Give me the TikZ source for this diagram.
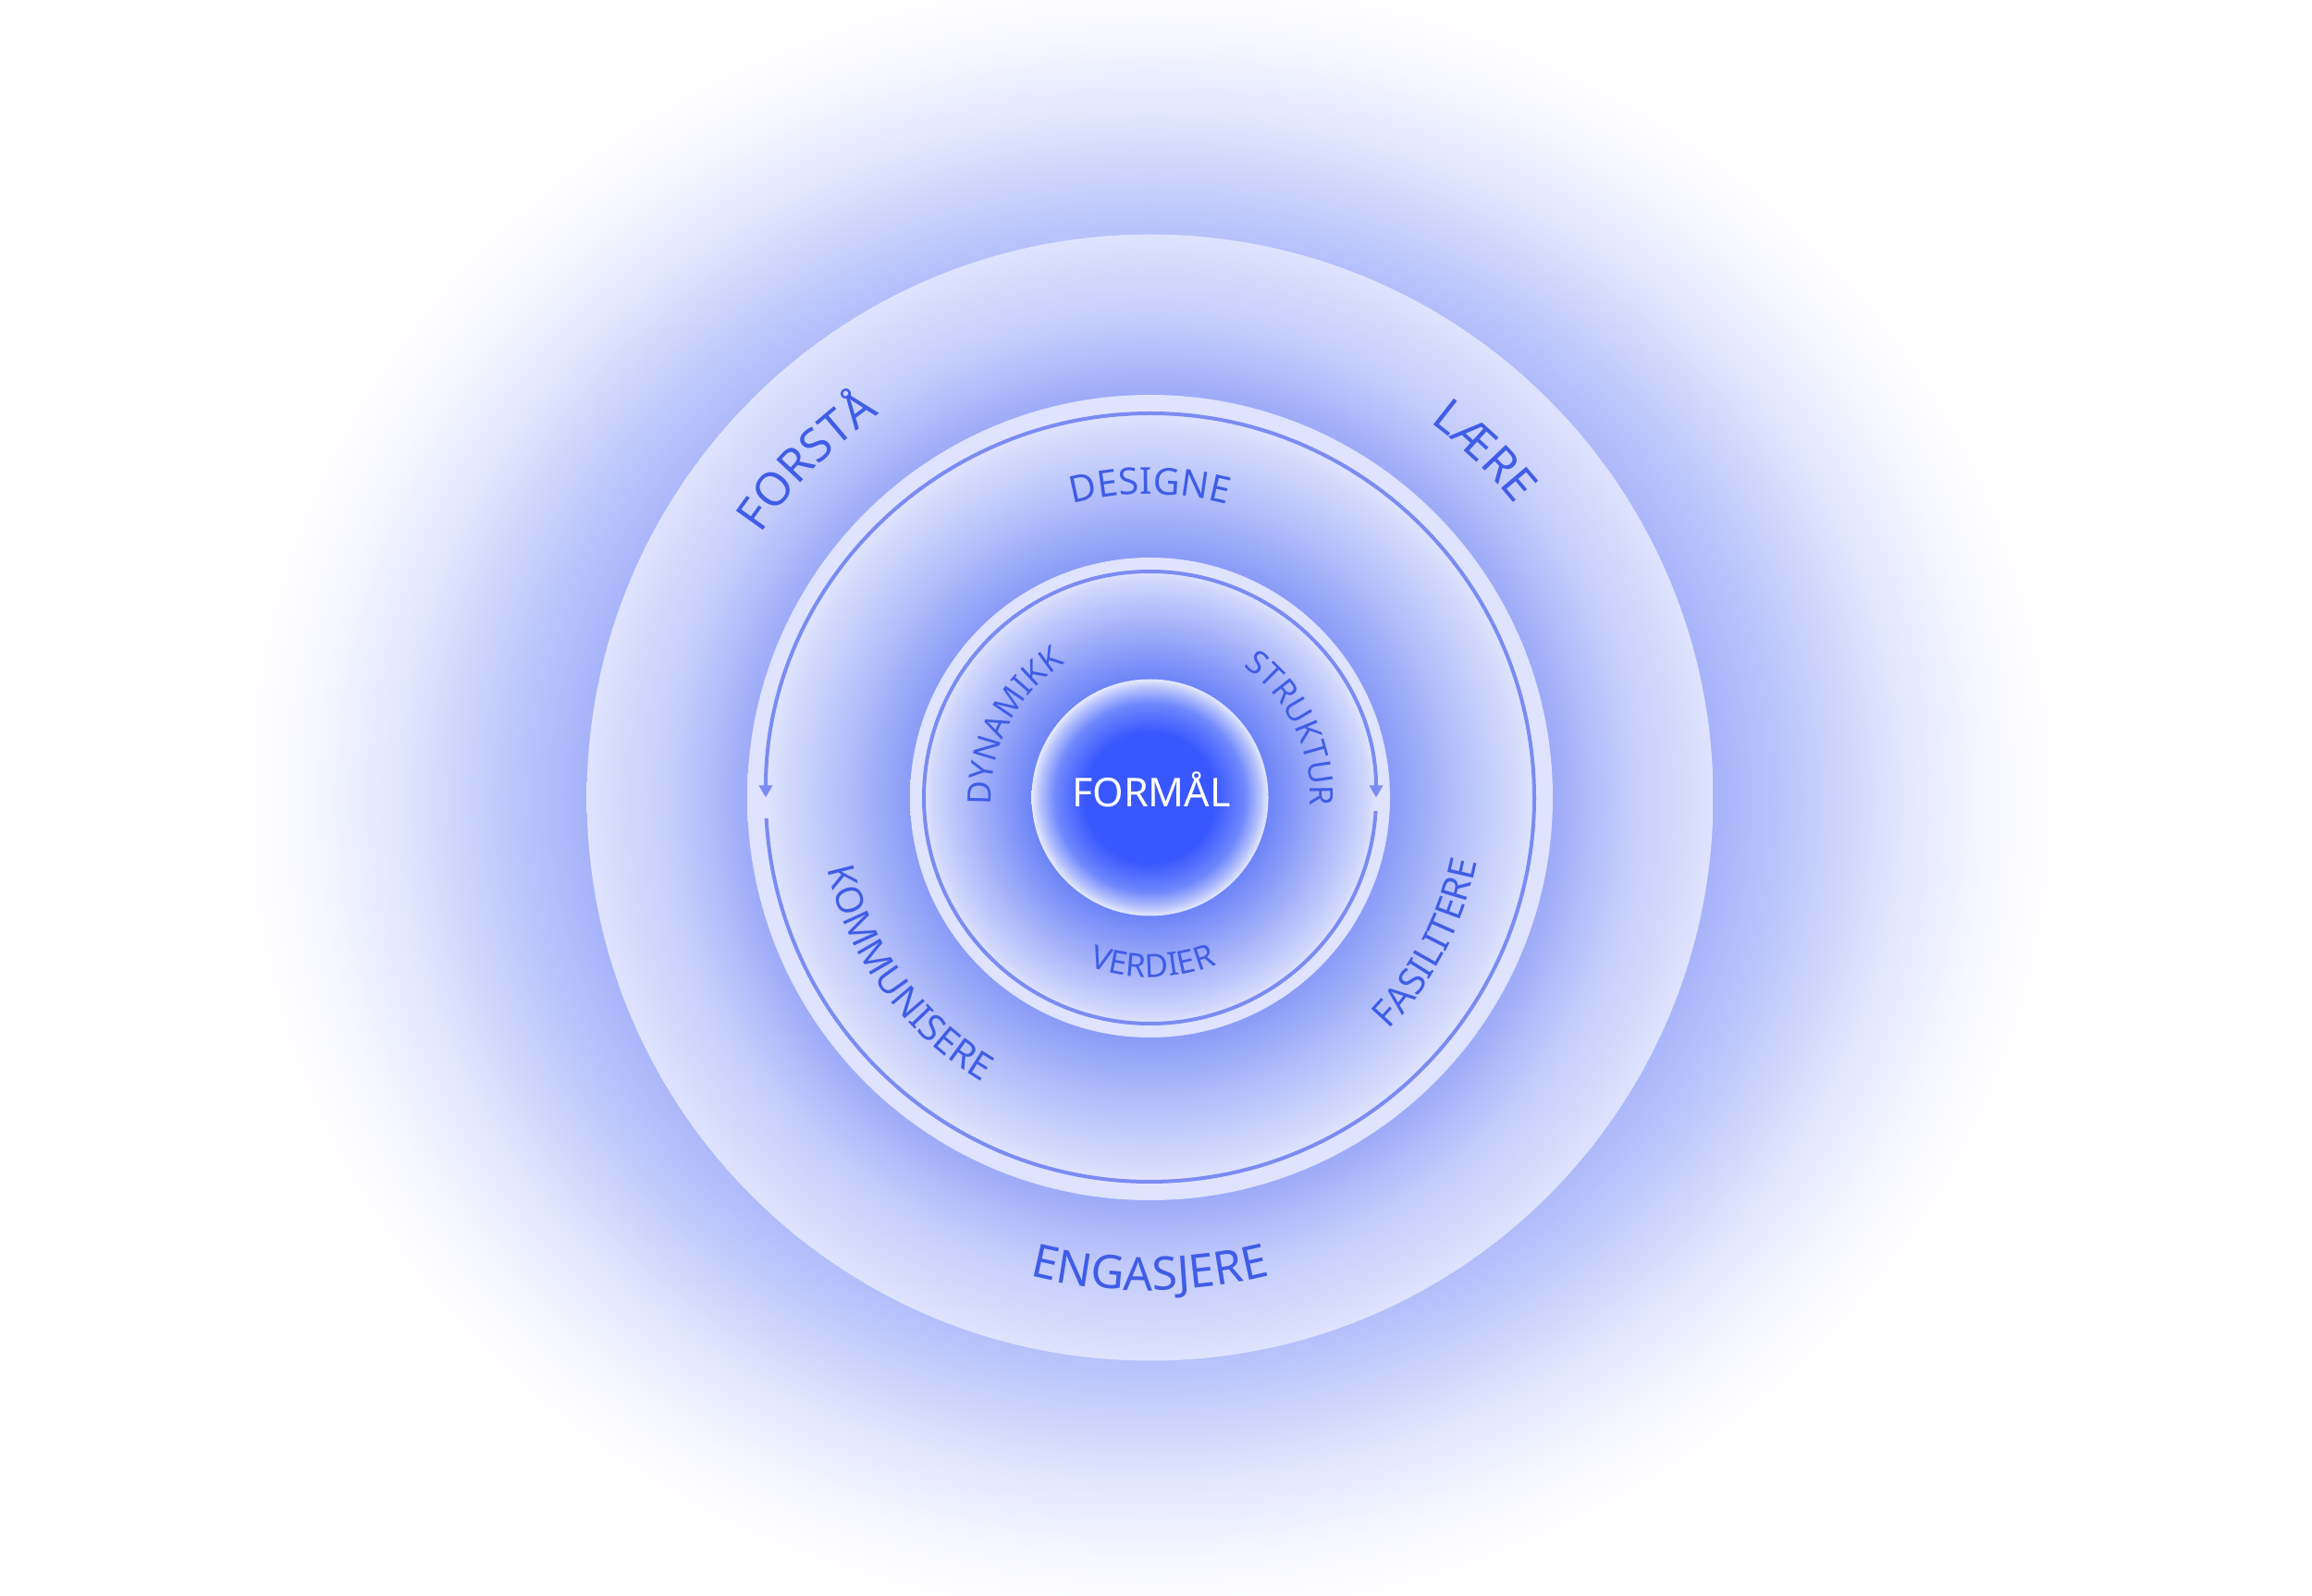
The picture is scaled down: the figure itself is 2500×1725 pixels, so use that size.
\documentclass[tikz,border=0pt]{standalone}
\usepackage{fontspec}
\setmainfont{Noto Sans}
\usetikzlibrary{arrows.meta,decorations.text}

\definecolor{labelblue}{HTML}{3F5DE6}
\definecolor{lineblue}{HTML}{7A8CF2}
\definecolor{rimpale}{HTML}{DFE3FD}
\definecolor{glowblue}{HTML}{A6B3FA}
\definecolor{glowmid}{HTML}{C3CCFB}
\definecolor{glowlight}{HTML}{E1E6FD}
\definecolor{glowfaint}{HTML}{F7F8FF}
\definecolor{outermid}{HTML}{C3CBFB}
\definecolor{outerdeep}{HTML}{98A7F8}
\definecolor{middlesoft}{HTML}{D6DCFC}
\definecolor{middlemid}{HTML}{B3BFFA}
\definecolor{middledeep}{HTML}{8A9CF7}
\definecolor{innersoft}{HTML}{CFD6FC}
\definecolor{innermid}{HTML}{A0AEF9}
\definecolor{innerdeep}{HTML}{6C84F7}
\definecolor{coreblue}{HTML}{3957FE}
\definecolor{coremid}{HTML}{6F88FC}
\definecolor{coresoft}{HTML}{B6C2FC}
\definecolor{corerim}{HTML}{E6EAFE}

\pgfdeclareradialshading{glowshade}{\pgfpointorigin}{color(0bp)=(glowblue); color(15.4bp)=(glowblue); color(18bp)=(glowmid); color(20.5bp)=(glowlight); color(23bp)=(glowfaint); color(25bp)=(white); color(50bp)=(white)}
\pgfdeclareradialshading{outershade}{\pgfpointorigin}{color(0bp)=(outerdeep); color(17.5bp)=(outerdeep); color(21bp)=(outermid); color(25bp)=(rimpale); color(50bp)=(rimpale)}
\pgfdeclareradialshading{middleshade}{\pgfpointorigin}{color(0bp)=(middledeep); color(15bp)=(middledeep); color(19bp)=(middlemid); color(23bp)=(middlesoft); color(23.8bp)=(rimpale); color(25bp)=(rimpale); color(50bp)=(rimpale)}
\pgfdeclareradialshading{innershade}{\pgfpointorigin}{color(0bp)=(innerdeep); color(12.3bp)=(innerdeep); color(17.5bp)=(innermid); color(22.5bp)=(innersoft); color(23.5bp)=(rimpale); color(25bp)=(rimpale); color(50bp)=(rimpale)}
\pgfdeclareradialshading{coreshade}{\pgfpointorigin}{color(0bp)=(coreblue); color(13.75bp)=(coreblue); color(20bp)=(coremid); color(23.2bp)=(coresoft); color(25bp)=(corerim); color(50bp)=(corerim)}

\newcommand\outerlabelfont{\fontsize{50}{58}\selectfont}
\newcommand\middlelabelfont{\fontsize{40}{48}\selectfont}
\newcommand\innerlabelfont{\fontsize{35}{42}\selectfont}
\newcommand\corelabelfont{\fontsize{43}{50}\selectfont}

\tikzset{
  ringline/.style={draw=lineblue, line width=4pt},
  ringtip/.style={-{Triangle[length=13pt,width=14pt]}},
  outerlabel/.style={decorate, decoration={text along path, text align=center,
      text color=labelblue, text={|\outerlabelfont|#1}}},
  middlelabel/.style={decorate, decoration={text along path, text align=center,
      text color=labelblue, text={|\middlelabelfont|#1}}},
  innerlabel/.style={decorate, decoration={text along path, text align=center,
      text color=labelblue, text={|\innerlabelfont|#1}}}
}

\begin{document}
\begin{tikzpicture}[x=1pt,y=1pt]
  \useasboundingbox (0,0) rectangle (2500,1725);
  \fill[white] (0,0) rectangle (2500,1725);
  \coordinate (c) at (1243.5,862.5);

  % halo and discs
  \shade[shading=glowshade] (c) ellipse[x radius=990, y radius=900];
  \shade[shading=outershade] (c) circle[radius=609];
  \shade[shading=middleshade] (c) circle[radius=435.5];
  \draw[ringline, ringtip] (c) ++(183.1:415.5) arc[start angle=183.1, end angle=540, radius=415.5];
  \shade[shading=innershade] (c) circle[radius=259.5];
  \draw[ringline, ringtip] (c) ++(-3.4:244.5) arc[start angle=-3.4, end angle=-360, radius=244.5];
  \shade[shading=coreshade] (c) circle[radius=128];
  \node[text=white, font=\corelabelfont, anchor=base, inner sep=0pt] (formal) at (1245,852) {FORMÅL};

  % outer ring
  \path[outerlabel=FORSTÅ] (c) ++(215.5:508) arc[start angle=215.5, end angle=55.5, radius=508];
  \path[outerlabel=LÆRE] (c) ++(126:506) arc[start angle=126, end angle=-34, radius=506];
  \path[outerlabel=ENGASJERE] (c) ++(190:533) arc[start angle=190, end angle=350, radius=533];

  % middle ring
  \path[middlelabel=DESIGNE] (c) ++(170:328) arc[start angle=170, end angle=10, radius=328];
  \path[middlelabel=KOMMUNISERE] (c) ++(136:357) arc[start angle=136, end angle=296, radius=357];
  \path[middlelabel=FASILITERE] (c) ++(252.4:360) arc[start angle=252.4, end angle=412.4, radius=360];

  % inner ring
  \path[innerlabel=DYNAMIKK] (c) ++(232.5:171.5) arc[start angle=232.5, end angle=72.5, radius=171.5];
  \path[innerlabel=STRUKTUR] (c) ++(105.8:173.5) arc[start angle=105.8, end angle=-54.2, radius=173.5];
  \path[innerlabel=VERDIER] (c) ++(191:194.5) arc[start angle=191, end angle=351, radius=194.5];
\end{tikzpicture}
\end{document}
